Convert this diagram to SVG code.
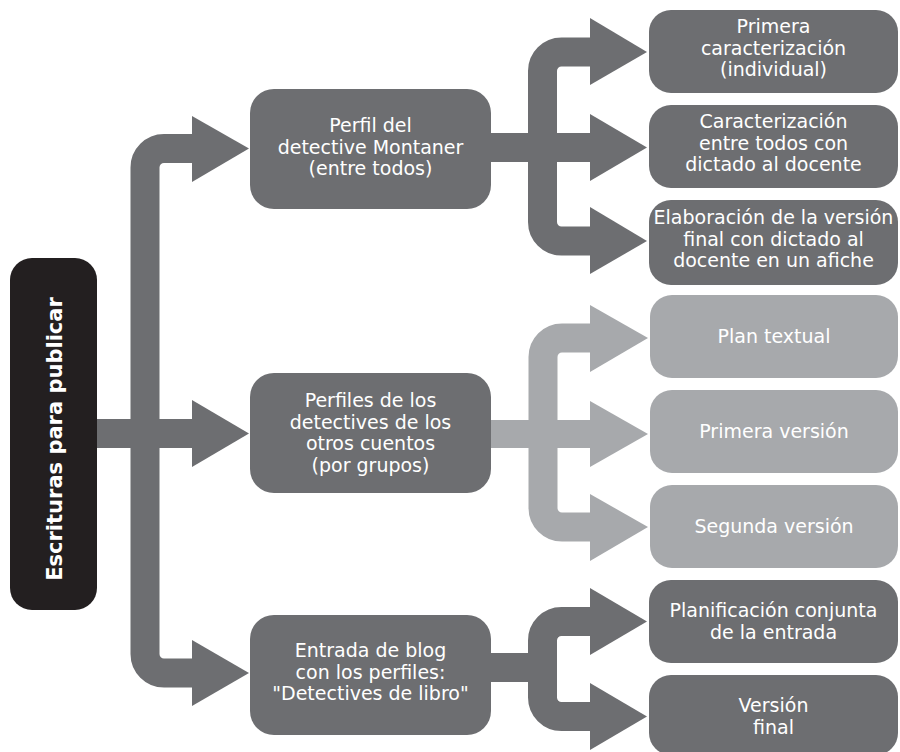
<svg xmlns="http://www.w3.org/2000/svg" width="900" height="752" viewBox="0 0 900 752">
<style>
.dk{fill:#6d6e71}
.lt{fill:#a7a9ac}
.bk{fill:#231f20}
.sdk{fill:none;stroke:#6d6e71;stroke-width:29}
.slt{fill:none;stroke:#a7a9ac;stroke-width:29}
text{font-family:"DejaVu Sans","Liberation Sans",sans-serif;font-size:19px;fill:#ffffff;text-anchor:middle}
.root{font-weight:bold;font-size:21px}
</style>
<rect width="900" height="752" fill="#ffffff"/>
<g id="connectors">
  <path class="sdk" d="M192 148.5 H164 A19 19 0 0 0 145 167.5 V654 A19 19 0 0 0 164 673 H192"/>
  <rect class="dk" x="97" y="419" width="96" height="29"/>
  <polygon class="dk" points="192,116 249,148.5 192,182"/>
  <polygon class="dk" points="192,400 249,433.5 192,467"/>
  <polygon class="dk" points="192,640 249,673 192,706"/>
  <rect class="dk" x="490" y="133" width="101" height="29"/>
  <path class="sdk" d="M591 52 H561.5 A19 19 0 0 0 542.5 71 V222 A19 19 0 0 0 561.5 241 H591"/>
  <polygon class="dk" points="590,18 647,52 590,85"/>
  <polygon class="dk" points="590,114 647,147.5 590,181"/>
  <polygon class="dk" points="590,207 647,241 590,274"/>
  <rect class="lt" x="490" y="420" width="101" height="28"/>
  <path class="slt" d="M591 338 H562 A19 19 0 0 0 543 357 V508 A19 19 0 0 0 562 527 H591"/>
  <polygon class="lt" points="590,305 648,338 590,372"/>
  <polygon class="lt" points="590,401 648,434 590,467"/>
  <polygon class="lt" points="590,494 648,527 590,561"/>
  <rect class="dk" x="490" y="653" width="50" height="29"/>
  <path class="sdk" d="M591 621.5 H561.5 A19 19 0 0 0 542.5 640.5 V697.5 A19 19 0 0 0 561.5 716.5 H591"/>
  <polygon class="dk" points="590,588 647,621.5 590,655"/>
  <polygon class="dk" points="590,683 647,716.5 590,750"/>
</g>
<g id="root">
  <rect class="bk" x="10" y="258" width="87" height="352" rx="22"/>
  <text class="root" transform="translate(62,439) rotate(-90)">Escrituras para publicar</text>
</g>
<g id="n1">
  <rect class="dk" x="250" y="89" width="241" height="120" rx="24"/>
  <text x="370.5" y="132">Perfil del</text>
  <text x="370.5" y="153.5">detective Montaner</text>
  <text x="370.5" y="175">(entre todos)</text>
</g>
<g id="n2">
  <rect class="dk" x="250" y="373" width="241" height="120" rx="24"/>
  <text x="370.5" y="407">Perfiles de los</text>
  <text x="370.5" y="428.5">detectives de los</text>
  <text x="370.5" y="450">otros cuentos</text>
  <text x="370.5" y="471.5">(por grupos)</text>
</g>
<g id="n3">
  <rect class="dk" x="250" y="615" width="241" height="120" rx="24"/>
  <text x="370.5" y="657">Entrada de blog</text>
  <text x="370.5" y="678.5">con los perfiles:</text>
  <text x="370.5" y="700">"Detectives de libro"</text>
</g>
<g id="n1a">
  <rect class="dk" x="649" y="10" width="249" height="83" rx="22"/>
  <text x="773.5" y="33">Primera</text>
  <text x="773.5" y="54.5">caracterización</text>
  <text x="773.5" y="76">(individual)</text>
</g>
<g id="n1b">
  <rect class="dk" x="649" y="105" width="249" height="83" rx="22"/>
  <text x="773.5" y="128">Caracterización</text>
  <text x="773.5" y="149.5">entre todos con</text>
  <text x="773.5" y="171">dictado al docente</text>
</g>
<g id="n1c">
  <rect class="dk" x="649" y="200" width="249" height="85" rx="22"/>
  <text x="773.5" y="224">Elaboración de la versión</text>
  <text x="773.5" y="245.5">final con dictado al</text>
  <text x="773.5" y="267">docente en un afiche</text>
</g>
<g id="n2a">
  <rect class="lt" x="650" y="295" width="248" height="83" rx="22"/>
  <text x="774" y="343">Plan textual</text>
</g>
<g id="n2b">
  <rect class="lt" x="650" y="390" width="248" height="83" rx="22"/>
  <text x="774" y="438">Primera versión</text>
</g>
<g id="n2c">
  <rect class="lt" x="650" y="485" width="248" height="83" rx="22"/>
  <text x="774" y="533">Segunda versión</text>
</g>
<g id="n3a">
  <rect class="dk" x="649" y="580" width="249" height="83" rx="22"/>
  <text x="773.5" y="617">Planificación conjunta</text>
  <text x="773.5" y="638.5">de la entrada</text>
</g>
<g id="n3b">
  <rect class="dk" x="649" y="675" width="249" height="80" rx="22"/>
  <text x="773.5" y="712">Versión</text>
  <text x="773.5" y="733.5">final</text>
</g>
</svg>
